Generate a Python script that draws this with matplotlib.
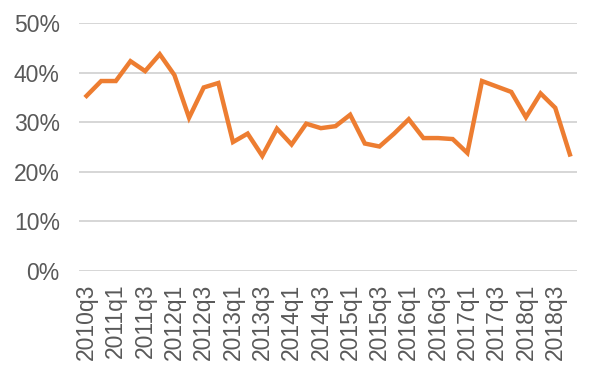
import matplotlib
matplotlib.use("Agg")
import matplotlib.pyplot as plt
from matplotlib.ticker import PercentFormatter

# quarters 2010q3 .. 2018q4
quarters = [f"{y}q{q}" for y in range(2010, 2019) for q in range(1, 5)][2:]
values = [35.3, 38.3, 38.3, 42.3, 40.3, 43.7, 39.5, 30.9, 37.0, 37.9,
          26.0, 27.7, 23.2, 28.7, 25.5, 29.7, 28.8, 29.2, 31.5, 25.7,
          25.1, 27.7, 30.6, 26.8, 26.8, 26.6, 23.8, 38.3, 37.2, 36.1,
          31.0, 35.8, 32.9, 23.5]
shares = [v / 100 for v in values]

plt.rcParams['font.family'] = ['Liberation Sans', 'DejaVu Sans']

fig = plt.figure(figsize=(6, 3.75), dpi=100)
ax = fig.add_axes([0.132, 0.2773, 0.83, 0.6614])

x = list(range(len(quarters)))
ax.plot(x, shares, color='#ED7D31', linewidth=3.2, solid_joinstyle='miter')

ax.set_xlim(-0.5, len(quarters) - 0.5)
ax.set_ylim(0, 0.5)
ax.set_yticks([0, 0.1, 0.2, 0.3, 0.4, 0.5])
ax.yaxis.set_major_formatter(PercentFormatter(1.0, decimals=0))
ax.set_xticks(x[::2])
ax.set_xticklabels(quarters[::2], rotation=90)

ax.grid(axis='y', color='#d0d0d0', linewidth=1.2)
ax.set_axisbelow(True)
for s in ax.spines.values():
    s.set_visible(False)
ax.tick_params(axis='both', length=0, labelsize=16.5, colors='#595959')
ax.tick_params(axis='y', pad=14)
ax.tick_params(axis='x', pad=9)

fig.savefig("out.png", dpi=100)
